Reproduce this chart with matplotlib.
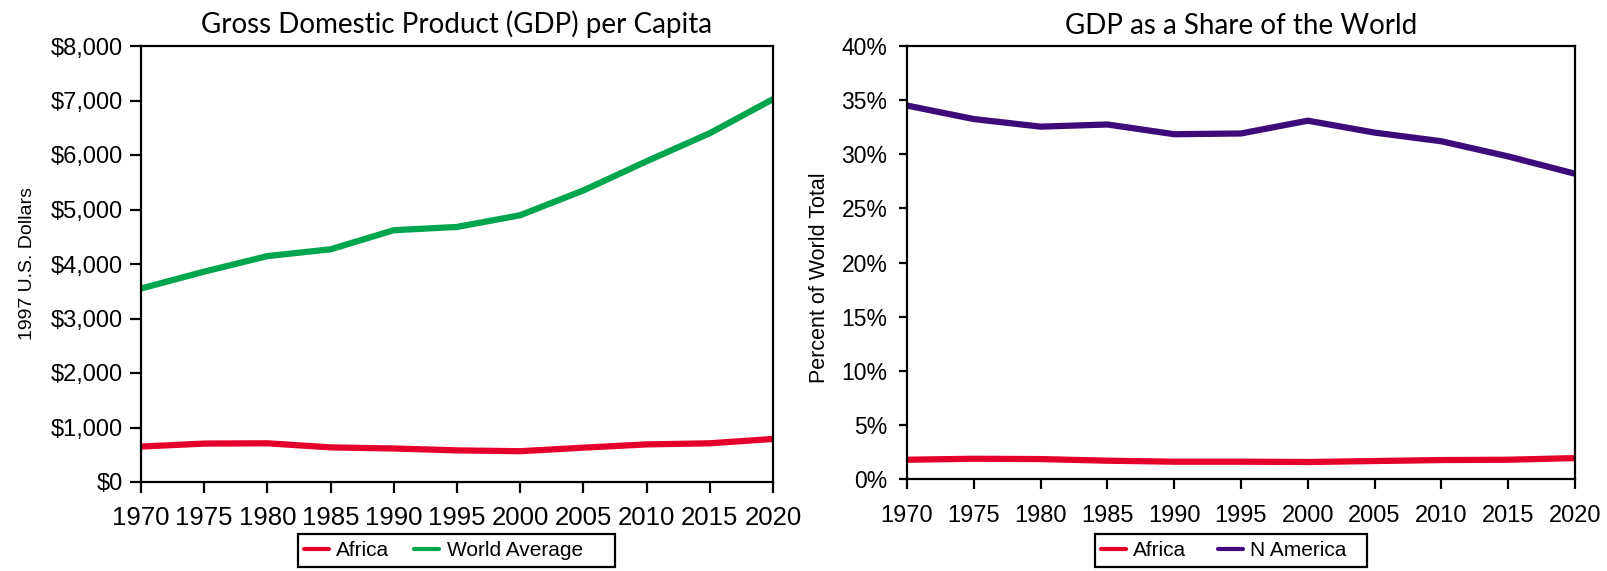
import matplotlib
matplotlib.use("Agg")
import matplotlib.pyplot as plt
from matplotlib.patches import Rectangle
from matplotlib.ticker import FuncFormatter, MultipleLocator

# Data
years = [1970, 1975, 1980, 1985, 1990, 1995, 2000, 2005, 2010, 2015, 2020]

# GDP per capita, 1997 US dollars
africa_gdp = [650, 705, 710, 635, 615, 580, 565, 630, 690, 710, 790]
world_gdp = [3550, 3860, 4145, 4270, 4620, 4680, 4895, 5350, 5885, 6400, 7025]

# share of world GDP, percent
africa_share = [1.78, 1.87, 1.84, 1.69, 1.60, 1.60, 1.57, 1.66, 1.75, 1.78, 1.93]
namerica_share = [34.5, 33.25, 32.55, 32.75, 31.85, 31.92, 33.1, 32.0, 31.2, 29.8, 28.2]

RED = "#e4002b"
GREEN = "#00a64f"
PURPLE = "#3d0c7a"

plt.rcParams["font.family"] = ["Liberation Sans", "DejaVu Sans"]
TITLE_FONT = "Lato"

W, H = 1608, 571
fig = plt.figure(figsize=(W / 100, H / 100), dpi=100)
ax1 = fig.add_axes([141 / W, 1 - 482 / H, (773 - 141) / W, (482 - 46) / H])
ax2 = fig.add_axes([907 / W, 1 - 479 / H, (1575 - 907) / W, (479 - 46) / H])


def style_axes(ax):
    for sp in ax.spines.values():
        sp.set_linewidth(1.6)
        sp.set_color("black")
    ax.set_xlim(1970, 2020)
    ax.set_xticks(years)


def boxed_legend(ax, x0, x1, y0, y1, colspacing):
    # legend entries start a little inside a plain box drawn in pixel units
    leg = ax.legend(loc="center left", bbox_to_anchor=((x0 + 6) / W, 1 - (y0 + y1) / 2 / H),
                    bbox_transform=fig.transFigure, ncol=2, fontsize=15,
                    frameon=False, handlelength=1.2, handletextpad=0.35,
                    columnspacing=colspacing, borderpad=0, borderaxespad=0)
    for ln in leg.get_lines():
        ln.set_linewidth(3)
    fig.patches.append(Rectangle((x0 / W, 1 - y1 / H), (x1 - x0) / W, (y1 - y0) / H,
                                 transform=fig.transFigure, fill=False,
                                 edgecolor="black", linewidth=1.6))
    return leg


# ---- left: GDP per capita ----
ax1.plot(years, africa_gdp, color=RED, lw=4.5, label="Africa", solid_capstyle="round")
ax1.plot(years, world_gdp, color=GREEN, lw=4.5, label="World Average", solid_capstyle="round")
style_axes(ax1)
ax1.set_ylim(0, 8000)
ax1.yaxis.set_major_locator(MultipleLocator(1000))
ax1.yaxis.set_major_formatter(FuncFormatter(lambda v, p: f"${v:,.0f}"))
ax1.tick_params(axis="y", labelsize=17, length=8, width=1.6, pad=5)
ax1.tick_params(axis="x", labelsize=18.5, length=8, width=1.6, pad=9)
ax1.set_title("Gross Domestic Product (GDP) per Capita", fontsize=20,
              family=TITLE_FONT, pad=9)
ax1.set_ylabel("1997 U.S. Dollars", fontsize=14)
ax1.yaxis.set_label_coords(-0.166, 0.5)
boxed_legend(ax1, 298, 615, 534, 567, 1.2)

# ---- right: share of world GDP ----
ax2.plot(years, africa_share, color=RED, lw=4.5, label="Africa", solid_capstyle="round")
ax2.plot(years, namerica_share, color=PURPLE, lw=4.5, label="N America", solid_capstyle="round")
style_axes(ax2)
ax2.set_ylim(0, 40)
ax2.yaxis.set_major_locator(MultipleLocator(5))
ax2.yaxis.set_major_formatter(FuncFormatter(lambda v, p: f"{v:.0f}%"))
ax2.tick_params(axis="y", labelsize=16.5, length=6, width=1.6, pad=8)
ax2.tick_params(axis="x", labelsize=17, length=7, width=1.6, pad=12)
ax2.set_title("GDP as a Share of the World", fontsize=20, family=TITLE_FONT, pad=9)
ax2.set_ylabel("Percent of World Total", fontsize=15.5)
ax2.yaxis.set_label_coords(-0.115, 0.464)
boxed_legend(ax2, 1095, 1367, 534, 567, 1.5)

fig.savefig("out.png", dpi=100)
